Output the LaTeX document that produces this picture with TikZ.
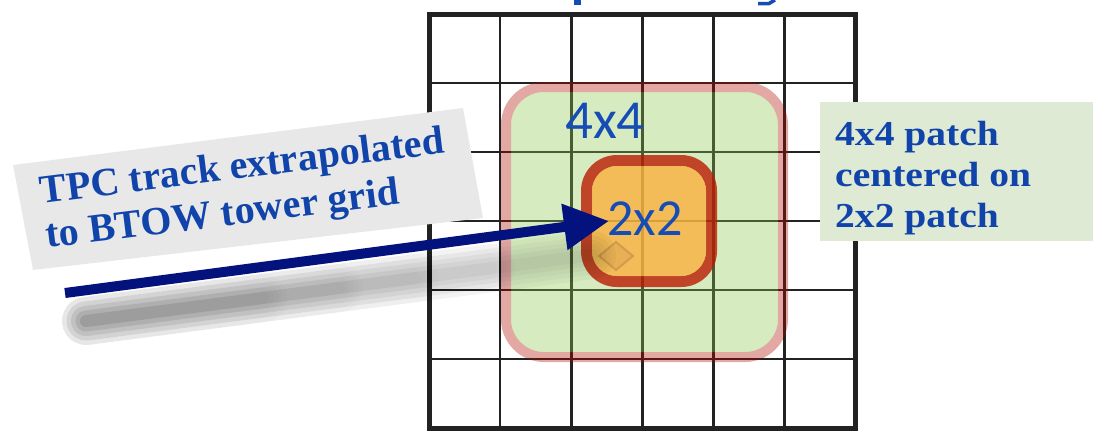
\documentclass[tikz,border=0pt]{standalone}
\usepackage{fontspec}
\setmainfont{Liberation Serif}
\newfontfamily\calib{Carlito}
\newfontfamily\rlabfont[FakeStretch=1.13]{Liberation Serif}
\usetikzlibrary{arrows.meta,calc}
\definecolor{gridc}{HTML}{222222}
\definecolor{txtblue}{RGB}{16,68,170}
\definecolor{numblue}{RGB}{22,76,182}
\definecolor{navy}{RGB}{4,18,125}
\definecolor{labgray}{HTML}{E8E8E8}
\definecolor{labgreen}{HTML}{DFEAD4}
\definecolor{pgreen}{RGB}{139,199,77}
\definecolor{pborder}{RGB}{176,10,0}
\definecolor{porange}{RGB}{251,177,62}
\definecolor{pred}{RGB}{186,26,2}
\definecolor{dmd}{RGB}{205,150,80}
\tikzset{
  gridline/.style={gridc, line width=2.8pt},
  gridframe/.style={gridc, line width=5pt},
  numtext/.style={numblue, inner sep=0pt, anchor=base west},
  labtext/.style={txtblue, inner sep=0pt, anchor=base west, align=left},
  shadowline/.style={black, line cap=round, line join=round},
}
\begin{document}
\begin{tikzpicture}[x=1pt,y=-1pt]
\useasboundingbox (0,0) rectangle (1107,431);
% cut-off title descenders
\fill[numblue] (574,0) rectangle (581,4.5);
\draw[numblue, line width=3.5pt] (775,0) -- (769,3.5) -- (758,3.5);
% grid
\foreach \i in {1,...,5} {
  \draw[gridline] ({429+\i*71.08},14) -- ({429+\i*71.08},428);
  \draw[gridline] (429,{14+\i*69}) -- (855.5,{14+\i*69});
}
\draw[gridframe] (429,14) rectangle (855.5,428);
% 4x4 patch
\fill[pborder, opacity=0.355, even odd rule] [rounded corners=43pt] (501,82) rectangle (788,362) [rounded corners=33pt] (511,92) rectangle (778,352);
\fill[pgreen, opacity=0.355, rounded corners=33pt] (511,92) rectangle (778,352);
% 2x2 patch
\fill[pred, opacity=0.8, even odd rule] [rounded corners=36pt] (581,155) rectangle (717,287) [rounded corners=25pt] (592,166) rectangle (706,276);
\fill[porange, opacity=0.8, rounded corners=25pt] (592,166) rectangle (706,276);
% diamond marker
\draw[dmd, draw opacity=0.8, fill=dmd, fill opacity=0.3, line width=2pt] (599,256) -- (616,242) -- (633,256) -- (616,270) -- cycle;
% patch labels
\node[numtext, font=\calib\fontsize{55}{60}\selectfont] (t44) at (565,138) {4x4};
\node[numtext, font=\calib\fontsize{52}{58}\selectfont] (t22) at (607,235) {2x2};
% left grey label
\fill[labgray] (13,165) -- (463,108) -- (483,218) -- (33,270) -- cycle;
\node[labtext, rotate=7.1, font=\bfseries\fontsize{40}{45}\selectfont] (tpc) at (47,248) {TPC track extrapolated\\to BTOW tower grid};
% right green label
\fill[labgreen] (820,102) rectangle (1093,241);
\node[labtext, font=\rlabfont\bfseries\fontsize{35}{41}\selectfont] (patchlab) at (835,227) {4x4 patch\\centered on\\2x2 patch};
% track arrow shadow (soft, fading to the right)
\coordinate (shS) at (86,321);
\coordinate (shE) at (592,255);
\foreach \f in {0.35,0.5,0.65,0.8,1.0,1.0} {
  \foreach \w in {48,39,30,21,12} {
    \draw[shadowline, opacity=0.017, line width=\w pt] (shS) -- ($(shS)!\f!(shE)$);
  }
}
% track arrow
\coordinate (trackS) at (65,293);
\coordinate (trackT) at (609,221);
\draw[navy, line width=10pt, -{Triangle[length=45pt,width=44pt]}] (trackS) -- (trackT);
\end{tikzpicture}
\end{document}
